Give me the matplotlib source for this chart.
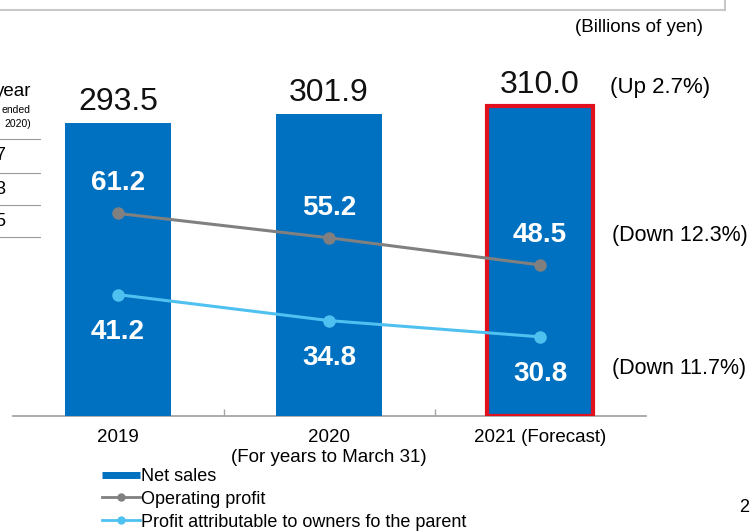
import matplotlib.pyplot as plt
from matplotlib.lines import Line2D

plt.rcParams['font.family'] = ['Liberation Sans', 'DejaVu Sans']

years = ['2019', '2020\n(For years to March 31)', '2021 (Forecast)']
net_sales = [293.5, 301.9, 310.0]
operating_profit = [61.2, 55.2, 48.5]
owners_profit = [41.2, 34.8, 30.8]
changes = ['(Up 2.7%)', '(Down 12.3%)', '(Down 11.7%)']
legend_labels = ['Net sales', 'Operating profit',
                 'Profit attributable to owners fo the parent']

BLUE = '#0070c0'
GREY = '#808080'
SKY = '#4fc1f0'
RED = '#e0101e'

W, H = 750, 532
fig = plt.figure(figsize=(W / 100, H / 100), dpi=100)

def fx(px):
    return px / W

def fy(py):
    return 1 - py / H

# bars on the main axis, profit lines on a twin axis with its own scale
ax = fig.add_axes([fx(12.5), fy(416), 633 / W, 330 / H])
ax2 = ax.twinx()
x = list(range(len(years)))

bars = ax.bar(x, net_sales, width=0.5, color=BLUE, zorder=2)
bars[-1].set_edgecolor(RED)
bars[-1].set_linewidth(3)
ax.set_xlim(-0.5, 2.5)
ax.set_ylim(0, 330)
ax2.set_ylim(11.3, 11.3 + 330 / 4.06)

for i, v in enumerate(net_sales):
    ax.annotate(f'{v:.1f}', (i, v), xytext=(0, 13), textcoords='offset pixels',
                ha='center', va='baseline', fontsize=23, color='#111111')

ax2.plot(x, operating_profit, color=GREY, lw=2.2, marker='o', ms=8, zorder=3)
ax2.plot(x, owners_profit, color=SKY, lw=2.2, marker='o', ms=8, zorder=3)

for i, v in enumerate(operating_profit):
    ax2.annotate(f'{v:.1f}', (i, v), xytext=(0, 30), textcoords='offset pixels',
                 ha='center', va='center', fontsize=20, fontweight='bold',
                 color='white')
for i, v in enumerate(owners_profit):
    ax2.annotate(f'{v:.1f}', (i, v), xytext=(0, -37), textcoords='offset pixels',
                 ha='center', va='center', fontsize=20, fontweight='bold',
                 color='white')

# change vs previous year, beside the forecast bar
ax.annotate(changes[0], (2, net_sales[2]), xytext=(70, 13),
            textcoords='offset pixels', ha='left', va='baseline', fontsize=16)
ax2.annotate(changes[1], (2, operating_profit[2]), xytext=(72, 29),
             textcoords='offset pixels', ha='left', va='center', fontsize=15.5)
ax2.annotate(changes[2], (2, owners_profit[2]), xytext=(72, -32),
             textcoords='offset pixels', ha='left', va='center', fontsize=15.5)

for a in (ax, ax2):
    for s in ('top', 'left', 'right'):
        a.spines[s].set_visible(False)
    a.set_yticks([])
ax2.spines['bottom'].set_visible(False)
ax.spines['bottom'].set_color('#a6a6a6')
ax.spines['bottom'].set_linewidth(1.3)
ax.spines['bottom'].set_zorder(1)

ax.set_xticks(x, years)
for lbl in ax.get_xticklabels():
    lbl.set_linespacing(1.3)
ax.set_xticks([0.5, 1.5], minor=True)
ax.tick_params(axis='x', which='major', length=0, pad=9, labelsize=13.5)
ax.tick_params(axis='x', which='minor', direction='in', length=5,
               color='#a6a6a6', width=1)

handles = [
    Line2D([], [], color=BLUE, lw=5, solid_capstyle='butt'),
    Line2D([], [], color=GREY, lw=2, marker='o', ms=5),
    Line2D([], [], color=SKY, lw=2, marker='o', ms=5),
]
fig.legend(handles, legend_labels, loc='upper left',
           bbox_to_anchor=(fx(102), fy(468)), frameon=False, fontsize=13,
           handlelength=2.1, handletextpad=0.05, borderpad=0, borderaxespad=0,
           labelspacing=0.32)

fig.text(fx(703), fy(27), '(Billions of yen)', ha='right', va='center',
         fontsize=13.5)
fig.text(fx(744), fy(508), '2', ha='center', va='center', fontsize=13)

# frame of the panel above
fig.add_artist(Line2D([0, fx(725)], [fy(10), fy(10)], color='#c8c8c8', lw=1.5))
fig.add_artist(Line2D([fx(725), fx(725)], [1, fy(10)], color='#c8c8c8', lw=1.5))

# edge of the neighbouring table on the left
fig.text(fx(31), fy(91), 'year', ha='right', va='center', fontsize=13.5)
fig.text(fx(31), fy(110), 'ended', ha='right', va='center', fontsize=7.5)
fig.text(fx(31), fy(124), '2020)', ha='right', va='center', fontsize=7.5)
for py in (139, 173, 205, 237):
    fig.add_artist(Line2D([0, fx(40)], [fy(py), fy(py)], color='#9a9a9a',
                          lw=0.8))
for py, t in ((156, '7'), (189, '3'), (221, '5')):
    fig.text(fx(5), fy(py), t, ha='right', va='center', fontsize=13)

fig.savefig('out.png', dpi=100)
